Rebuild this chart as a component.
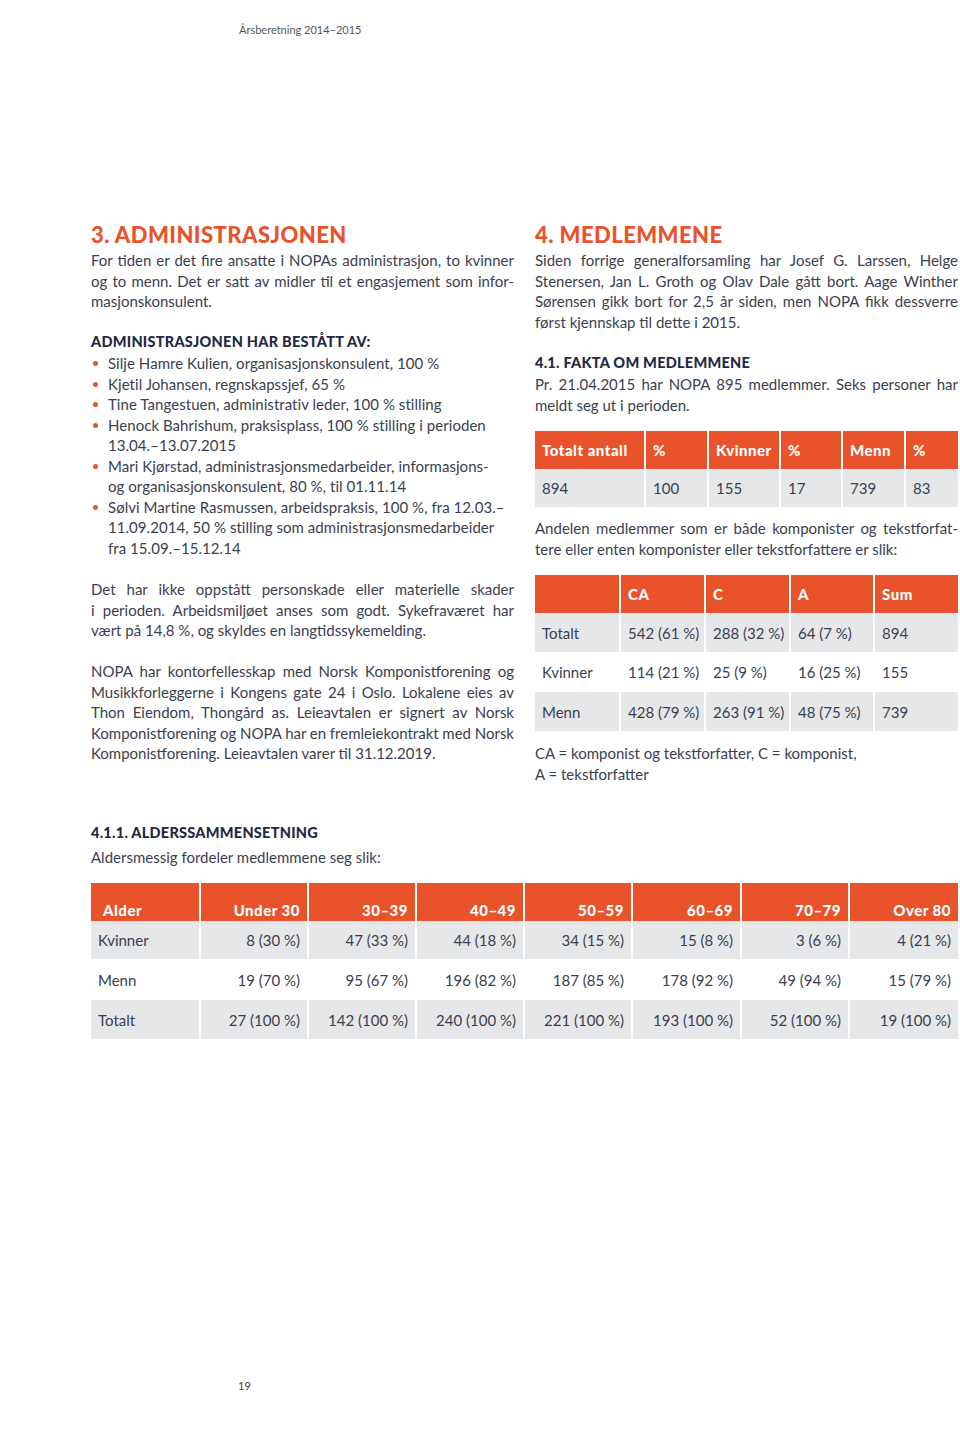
import React from "react";

const ORANGE = "#E8532B";
const GREY = "#E6E7E9";
const TEXT = "#3B4050";
const NAVY = "#1F2A44";
const FONT = "Lato, 'Open Sans', sans-serif";

const introLines = [
  "For tiden er det fire ansatte i NOPAs administrasjon, to kvinner",
  "og to menn. Det er satt av midler til et engasjement som infor-",
  "masjonskonsulent.",
];

const staff = [
  ["Silje Hamre Kulien, organisasjonskonsulent, 100 %"],
  ["Kjetil Johansen, regnskapssjef, 65 %"],
  ["Tine Tangestuen, administrativ leder, 100 % stilling"],
  ["Henock Bahrishum, praksisplass, 100 % stilling i perioden", "13.04.–13.07.2015"],
  ["Mari Kjørstad, administrasjonsmedarbeider, informasjons-", "og organisasjonskonsulent, 80 %, til 01.11.14"],
  [
    "Sølvi Martine Rasmussen, arbeidspraksis, 100 %, fra 12.03.–",
    "11.09.2014, 50 % stilling som administrasjonsmedarbeider",
    "fra 15.09.–15.12.14",
  ],
];

const injuryLines = [
  "Det har ikke oppstått personskade eller materielle skader",
  "i perioden. Arbeidsmiljøet anses som godt. Sykefraværet har",
  "vært på 14,8 %, og skyldes en langtidssykemelding.",
];

const officeLines = [
  "NOPA har kontorfellesskap med Norsk Komponistforening og",
  "Musikkforleggerne i Kongens gate 24 i Oslo. Lokalene eies av",
  "Thon Eiendom, Thongård as. Leieavtalen er signert av Norsk",
  "Komponistforening og NOPA har en fremleiekontrakt med Norsk",
  "Komponistforening. Leieavtalen varer til 31.12.2019.",
];

const memberLines = [
  "Siden forrige generalforsamling har Josef G. Larssen, Helge",
  "Stenersen, Jan L. Groth og Olav Dale gått bort. Aage Winther",
  "Sørensen gikk bort for 2,5 år siden, men NOPA fikk dessverre",
  "først kjennskap til dette i 2015.",
];

const factLines = [
  "Pr. 21.04.2015 har NOPA 895 medlemmer. Seks personer har",
  "meldt seg ut i perioden.",
];

const shareLines = [
  "Andelen medlemmer som er både komponister og tekstforfat-",
  "tere eller enten komponister eller tekstforfattere er slik:",
];

const legendLines = ["CA = komponist og tekstforfatter, C = komponist,", "A = tekstforfatter"];

// table 1
const totalsHeader = ["Totalt antall", "%", "Kvinner", "%", "Menn", "%"];
const totalsRow = ["894", "100", "155", "17", "739", "83"];

// table 2
const roleHeader = ["", "CA", "C", "A", "Sum"];
const roleRows = [
  ["Totalt", "542 (61 %)", "288 (32 %)", "64 (7 %)", "894"],
  ["Kvinner", "114 (21 %)", "25 (9 %)", "16 (25 %)", "155"],
  ["Menn", "428 (79 %)", "263 (91 %)", "48 (75 %)", "739"],
];

// table 3
const ageHeader = ["Alder", "Under 30", "30–39", "40–49", "50–59", "60–69", "70–79", "Over 80"];
const ageRows = [
  ["Kvinner", "8 (30 %)", "47 (33 %)", "44 (18 %)", "34 (15 %)", "15 (8 %)", "3 (6 %)", "4 (21 %)"],
  ["Menn", "19 (70 %)", "95 (67 %)", "196 (82 %)", "187 (85 %)", "178 (92 %)", "49 (94 %)", "15 (79 %)"],
  ["Totalt", "27 (100 %)", "142 (100 %)", "240 (100 %)", "221 (100 %)", "193 (100 %)", "52 (100 %)", "19 (100 %)"],
];

const LH = 20.5;

function Para({ lines, x, y, w = 423, justify = true }: { lines: string[]; x: number; y: number; w?: number; justify?: boolean }) {
  return (
    <div
      style={{
        position: "absolute",
        left: x,
        top: y,
        width: w,
        fontSize: 15,
        lineHeight: `${LH}px`,
        color: TEXT,
        wordSpacing: justify ? -1 : 0,
      }}
    >
      {lines.map((l, i) => (
        <div
          key={i}
          style={{
            textAlign: justify ? "justify" : "left",
            textAlignLast: justify && i < lines.length - 1 ? "justify" : "left",
            whiteSpace: "nowrap",
            wordSpacing: justify && i === lines.length - 1 ? 0 : undefined,
          }}
        >
          {l}
        </div>
      ))}
    </div>
  );
}

function Title({ text, x, y }: { text: string; x: number; y: number }) {
  return (
    <div style={{ position: "absolute", left: x, top: y, fontSize: 22, fontWeight: 900, color: ORANGE, letterSpacing: 0.45 }}>
      {text}
    </div>
  );
}

function Sub({ text, x, y }: { text: string; x: number; y: number }) {
  return (
    <div style={{ position: "absolute", left: x, top: y, fontSize: 14.5, fontWeight: 900, color: NAVY, letterSpacing: 0.25 }}>
      {text}
    </div>
  );
}

type TableProps = {
  x: number;
  y: number;
  widths: number[];
  header: string[];
  rows: string[][];
  headH: number;
  rowHs: number[];
  align?: "left" | "right";
  headAlignEnd?: boolean;
};

function Table({ x, y, widths, header, rows, headH, rowHs, align = "left", headAlignEnd }: TableProps) {
  const cell = (txt: string, ci: number, h: number, bg: string, head: boolean) => {
    const right = align === "right" && ci > 0;
    return (
      <div
        key={ci}
        style={{
          width: widths[ci],
          height: h,
          background: bg,
          display: "flex",
          alignItems: head && headAlignEnd ? "flex-end" : "center",
          justifyContent: right ? "flex-end" : "flex-start",
          paddingLeft: head && headAlignEnd && ci === 0 ? 12 : 7,
          paddingRight: right ? 7 : 0,
          paddingBottom: head && headAlignEnd ? 2 : 0,
          boxSizing: "border-box",
          color: head ? "#fff" : TEXT,
          fontWeight: head ? 900 : 400,
          fontSize: 15,
          letterSpacing: head ? 0.5 : 0,
          whiteSpace: "nowrap",
        }}
      >
        {txt}
      </div>
    );
  };
  return (
    <div style={{ position: "absolute", left: x, top: y }}>
      <div style={{ display: "flex", gap: 2 }}>{header.map((h, i) => cell(h, i, headH, ORANGE, true))}</div>
      {rows.map((r, ri) => (
        <div key={ri} style={{ display: "flex", gap: 2 }}>
          {r.map((c, ci) => cell(c, ci, rowHs[ri], ri % 2 === 0 ? GREY : "#fff", false))}
        </div>
      ))}
    </div>
  );
}

export default function App() {
  return (
    <div
      style={{
        position: "absolute",
        left: 0,
        top: 0,
        width: 960,
        height: 1441,
        background: "#fff",
        fontFamily: FONT,
        overflow: "hidden",
      }}
    >
      <div style={{ position: "absolute", left: 239, top: 23, fontSize: 11, color: "#555" }}>Årsberetning 2014–2015</div>

      <Title text="3. ADMINISTRASJONEN" x={91} y={221} />
      <Para lines={introLines} x={91} y={250} />
      <Sub text="ADMINISTRASJONEN HAR BESTÅTT AV:" x={91} y={333} />
      <div style={{ position: "absolute", left: 91, top: 353, width: 423, fontSize: 15, lineHeight: `${LH}px`, color: TEXT, letterSpacing: 0.05 }}>
        {staff.map((item, i) => (
          <div key={i} style={{ position: "relative", paddingLeft: 17 }}>
            <span
              style={{
                position: "absolute",
                left: 2,
                top: 8,
                width: 5,
                height: 5,
                borderRadius: 3,
                background: ORANGE,
              }}
            />
            {item.map((l, j) => (
              <div key={j} style={{ whiteSpace: "nowrap" }}>
                {l}
              </div>
            ))}
          </div>
        ))}
      </div>
      <Para lines={injuryLines} x={91} y={579} />
      <Para lines={officeLines} x={91} y={661} />

      <Title text="4. MEDLEMMENE" x={535} y={221} />
      <Para lines={memberLines} x={535} y={250} />
      <Sub text="4.1. FAKTA OM MEDLEMMENE" x={535} y={354} />
      <Para lines={factLines} x={535} y={374} />
      <Table
        x={535}
        y={431}
        widths={[109, 61, 70, 60, 61, 52]}
        header={totalsHeader}
        rows={[totalsRow]}
        headH={38}
        rowHs={[38]}
      />
      <Para lines={shareLines} x={535} y={518} />
      <Table
        x={535}
        y={575}
        widths={[84, 83, 83, 82, 83]}
        header={roleHeader}
        rows={roleRows}
        headH={38}
        rowHs={[39, 40, 39]}
      />
      <Para lines={legendLines} x={535} y={743} justify={false} />

      <Sub text="4.1.1. ALDERSSAMMENSETNING" x={91} y={824} />
      <Para lines={["Aldersmessig fordeler medlemmene seg slik:"]} x={91} y={847} />
      <Table
        x={91}
        y={883}
        widths={[108, 106, 106, 106, 106, 107, 106, 108]}
        header={ageHeader}
        rows={ageRows}
        headH={38}
        rowHs={[38, 41, 39]}
        align="right"
        headAlignEnd
      />

      <div style={{ position: "absolute", left: 238, top: 1379, fontSize: 11, color: TEXT }}>19</div>
    </div>
  );
}
